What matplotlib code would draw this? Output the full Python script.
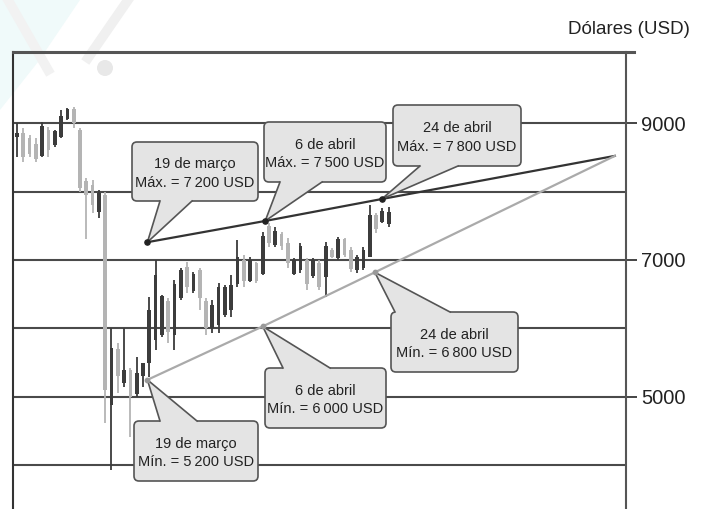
import matplotlib
matplotlib.use("Agg")
import matplotlib.pyplot as plt
from matplotlib.patches import FancyBboxPatch, Polygon, Circle
from matplotlib.lines import Line2D
from matplotlib.transforms import Affine2D

W, H = 701, 509

# velas diarias (USD)
abertura = [8800, 8850, 8780, 8700, 8520, 8900, 8680, 8800, 9060, 9200,
            8900, 8150, 8100, 7700, 7950, 4880, 5700, 5200, 5400, 5050,
            5300, 5500, 5830, 5900, 6400, 5900, 6450, 6900, 6550, 6850,
            6400, 6000, 6050, 6200, 6270, 6650, 7000, 6700, 6950, 6800,
            7500, 7220, 7380, 7250, 6800, 6850, 7000, 6760, 6950, 6750,
            7150, 7030, 7300, 7150, 6850, 6880, 7050, 7650, 7560, 7520]
maxima = [9000, 8930, 8820, 8780, 9010, 8940, 8900, 9190, 9220, 9230,
          8930, 8200, 8170, 8020, 7990, 6000, 5790, 6000, 5420, 5580,
          5500, 6460, 7000, 6490, 6440, 6710, 6880, 6970, 6830, 6880,
          6440, 6420, 6660, 6630, 6780, 7290, 7070, 7040, 6970, 7410,
          7540, 7480, 7410, 7320, 7030, 7250, 7030, 7030, 7000, 7260,
          7170, 7340, 7320, 7190, 7070, 7190, 7800, 7690, 7760, 7770]
minima = [8500, 8430, 8500, 8430, 8500, 8500, 8650, 8780, 9040, 8930,
          7990, 7300, 7690, 7610, 4620, 3930, 5060, 5150, 4420, 5000,
          5150, 5290, 5690, 5880, 5790, 5690, 6420, 6520, 6520, 6270,
          5900, 5930, 5930, 6170, 6170, 6600, 6600, 6680, 6660, 6780,
          7190, 7190, 7150, 6880, 6780, 6810, 6560, 6740, 6560, 6460,
          7030, 7000, 7040, 6830, 6810, 6850, 7040, 7390, 7540, 7480]
fecho = [8850, 8500, 8550, 8480, 8950, 8600, 8880, 9100, 9200, 9000,
         8050, 7950, 7800, 7980, 5100, 5710, 5300, 5390, 5000, 5350,
         5490, 6270, 6780, 6480, 5950, 6650, 6850, 6600, 6800, 6450,
         6000, 6350, 6600, 6600, 6630, 7050, 6700, 7000, 6700, 7350,
         7250, 7430, 7200, 6950, 7000, 7200, 6650, 7000, 6600, 7200,
         7050, 7300, 7080, 6870, 7050, 7150, 7650, 7450, 7720, 7700]

niveis_grelha = [4000, 5000, 6000, 7000, 8000, 9000]
ticks_dir = [5000, 7000, 9000]

# pontos das linhas de tendencia (indice da vela, USD)
datas = ["19 de março", "6 de abril", "24 de abril"]
max_x = [20.7, 39.4, 57.9]
max_y = [7260, 7570, 7890]
min_x = [20.7, 39.0, 56.8]
min_y = [5250, 6030, 6820]
max_rotulo = [7200, 7500, 7800]
min_rotulo = [5200, 6000, 6800]
fim_x, fim_y = 94.9, 8520

escuro = "#3c3c3c"
claro = "#b4b4b4"
borda = "#555555"
fundo_balao = "#e4e4e4"

plt.rcParams["font.family"] = ["Liberation Sans", "DejaVu Sans"]

fig = plt.figure(figsize=(W / 100, H / 100), dpi=100)
px = Affine2D().scale(1 / W, -1 / H).translate(0, 1) + fig.transFigure

# marca d'agua
fig.add_artist(Polygon([(0, 0), (80, 0), (38, 62), (0, 110)], closed=True,
                       transform=px, fc="#f0fafa", ec="none", zorder=0))
fig.add_artist(Line2D([8, 48], [0, 70], transform=px, color="#f2f2f2", lw=7, zorder=0))
fig.add_artist(Line2D([128, 88], [0, 58], transform=px, color="#f0f0f0", lw=7, zorder=0))
fig.add_artist(Circle((105, 68), 8, transform=px, fc="#e8e8e8", ec="none", zorder=0))

ax = fig.add_axes([13 / W, 0, 613 / W, 457 / H])
ax.set_facecolor("none")
ax.set_xlim(-0.635, 96.67)
ax.set_ylim(3364, 10037)

for nivel in niveis_grelha:
    ax.axhline(nivel, color="#4a4a4a", lw=1.5, zorder=1)

# velas
for i in range(len(abertura)):
    cor = escuro if fecho[i] >= abertura[i] else claro
    ax.vlines(i, minima[i], maxima[i], color=cor, lw=1.3, zorder=2)
    base = min(abertura[i], fecho[i])
    ax.bar(i, abs(fecho[i] - abertura[i]), bottom=base, width=0.6,
           color=cor, zorder=2)

# linhas de tendencia
ax.plot(max_x + [fim_x], max_y + [fim_y], color="#333333", lw=1.6, zorder=3)
ax.plot(min_x + [fim_x], min_y + [fim_y], color="#aaaaaa", lw=1.6, zorder=3)
ax.scatter(max_x, max_y, s=14, color="#222222", zorder=7)
ax.scatter(min_x, min_y, s=10, color="#999999", zorder=7)

# eixos
for lado in ["top", "bottom"]:
    ax.spines[lado].set_visible(False)
ax.spines["left"].set_color("#333333")
ax.spines["left"].set_linewidth(1.5)
ax.spines["right"].set_color("#555555")
ax.spines["right"].set_linewidth(1.5)
fig.add_artist(Line2D([13, 634], [52, 52], transform=px, color="#555555", lw=2.2))

ax.set_xticks([])
ax.yaxis.tick_right()
ax.set_yticks(ticks_dir)
ax.set_yticklabels([str(t) for t in ticks_dir])
ax.tick_params(axis="y", length=8, width=1.4, color="#444444", pad=3,
               labelsize=14.5, labelcolor="#222222")

fig.text(690 / W, 1 - 30 / H, "Dólares (USD)", ha="right", va="center",
         fontsize=13.5, color="#222222")


def para_px(x, y):
    d = ax.transData.transform((x, y))
    return d[0], H - d[1]


def balao(texto, ponto, caixa, base, lado):
    x0, y0, w, h = caixa
    ax.add_patch(FancyBboxPatch((x0, y0), w, h,
                                boxstyle="round,pad=0,rounding_size=5",
                                transform=px, fc=fundo_balao, ec=borda,
                                lw=1.2, zorder=5, clip_on=False))
    if lado == "baixo":
        yb, yi = y0 + h, y0 + h - 2
    else:
        yb, yi = y0, y0 + 2
    ponta = para_px(*ponto)
    ax.add_patch(Polygon([(base[0], yi), (base[0], yb), ponta, (base[1], yb), (base[1], yi)],
                         closed=True, transform=px, fc=fundo_balao, ec="none",
                         zorder=5.1, clip_on=False))
    ax.add_line(Line2D([base[0], ponta[0], base[1]], [yb, ponta[1], yb],
                       transform=px, color=borda, lw=1.2, zorder=5.2, clip_on=False))
    ax.text(x0 + w / 2, y0 + h / 2 + 2, texto, transform=px, ha="center",
            va="center", fontsize=10.5, color="#222222",
            linespacing=1.45, zorder=6)


def fmt(v):
    return f"{v:,}".replace(",", "\u2009")


caixas_max = [(132, 142, 126, 59), (264, 122, 122, 60), (393, 105, 128, 61)]
bases_max = [(160, 192), (280, 322), (420, 458)]
caixas_min = [(134, 421, 124, 60), (265, 368, 121, 60), (391, 312, 127, 60)]
bases_min = [(160, 197), (283, 330), (395, 450)]

for k in range(3):
    balao(f"{datas[k]}\nMáx. = {fmt(max_rotulo[k])} USD", (max_x[k], max_y[k]),
          caixas_max[k], bases_max[k], "baixo")
    balao(f"{datas[k]}\nMín. = {fmt(min_rotulo[k])} USD", (min_x[k], min_y[k]),
          caixas_min[k], bases_min[k], "cima")

fig.savefig("out.png", dpi=100, facecolor="white")
